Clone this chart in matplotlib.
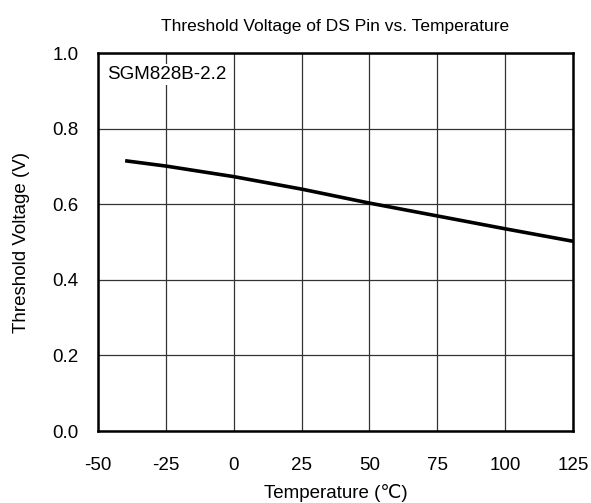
import matplotlib
matplotlib.use("Agg")
import matplotlib.pyplot as plt

# data
temperature = [-40, -25, 0, 25, 50, 75, 100, 125]
threshold_v = [0.715, 0.701, 0.673, 0.640, 0.603, 0.569, 0.535, 0.502]
x_ticks = [-50, -25, 0, 25, 50, 75, 100, 125]
y_ticks = [0.0, 0.2, 0.4, 0.6, 0.8, 1.0]

plt.rcParams['font.family'] = ['Liberation Sans', 'DejaVu Sans']
plt.rcParams['axes.unicode_minus'] = False

fig = plt.figure(figsize=(5.91, 5.03), dpi=100)
ax = fig.add_axes([0.1658, 0.1431, 0.9695 - 0.1658, 0.8946 - 0.1431])

ax.plot(temperature, threshold_v, color='black', lw=2.6, solid_capstyle='butt', zorder=3)

ax.set_xlim(-50, 125)
ax.set_ylim(0, 1.0)
ax.set_xticks(x_ticks)
ax.set_yticks(y_ticks)
ax.set_yticklabels([f"{v:.1f}" for v in y_ticks])
ax.grid(True, color='#333333', lw=0.9)
ax.tick_params(length=0, labelsize=13.5)
ax.tick_params(axis='x', pad=19)
ax.tick_params(axis='y', pad=14)
for s in ax.spines.values():
    s.set_linewidth(1.8)
    s.set_zorder(4)

ax.set_title("Threshold Voltage of DS Pin vs. Temperature", fontsize=12.5, pad=16)
ax.set_xlabel("Temperature (℃)", fontsize=13.5, labelpad=7)
ax.set_ylabel("Threshold Voltage (V)", fontsize=13.5, labelpad=16)

ax.text(0.02, 0.965, "SGM828B-2.2", transform=ax.transAxes, fontsize=13.5,
        va='top', ha='left', zorder=5,
        bbox=dict(facecolor='white', edgecolor='none', pad=1.5))

fig.savefig("out.png", dpi=100)
